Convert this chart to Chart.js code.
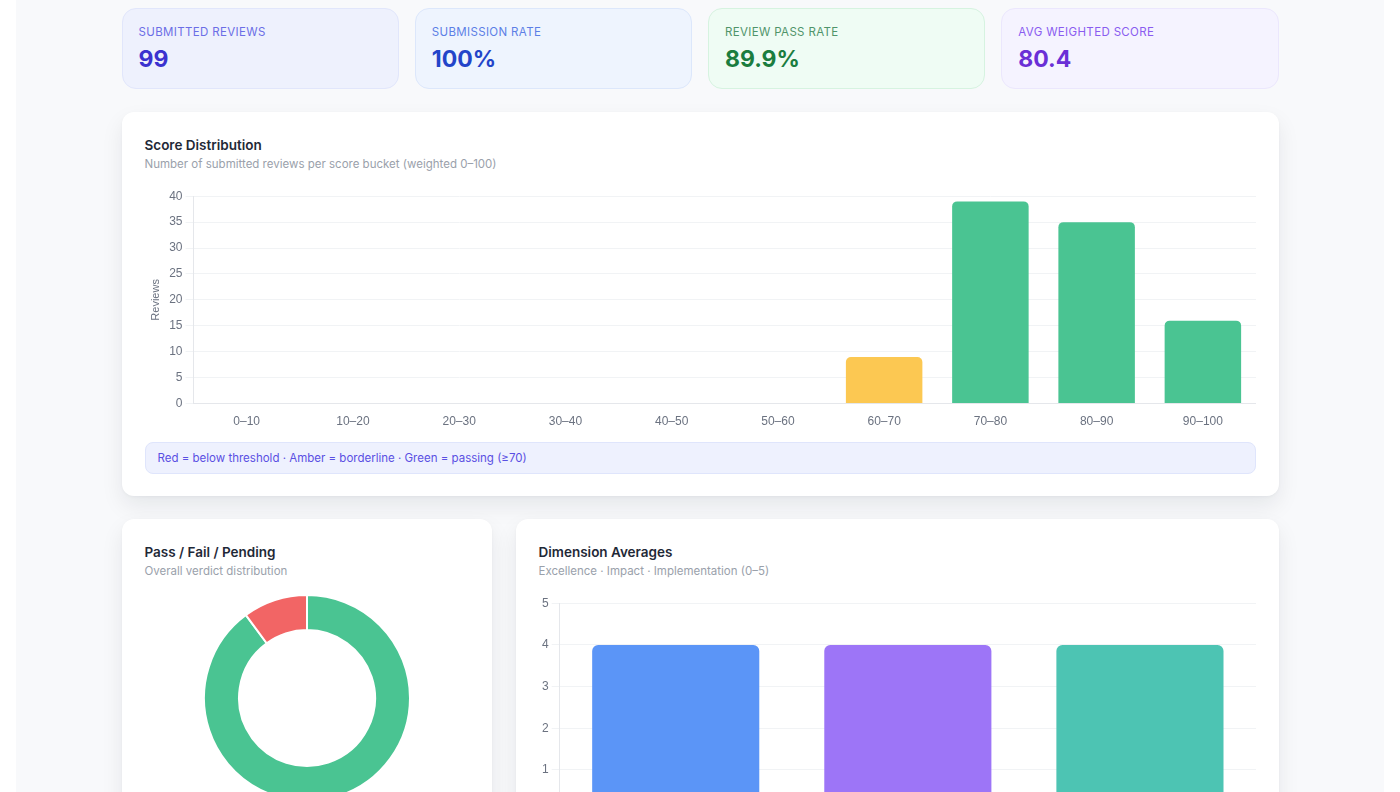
<!DOCTYPE html>
<html>
<head>
<meta charset="utf-8">
<script src="https://cdn.jsdelivr.net/npm/chart.js@4.4.1/dist/chart.umd.min.js"></script>
<style>
  html, body { margin: 0; padding: 0; background: #ffffff; font-family: Inter, "Noto Sans", sans-serif; }
  .page { margin: 0 16px; background: #f8f9fb; padding-top: 8px; box-sizing: border-box; overflow: hidden; height: 792px; }
  .wrap { width: 1157px; margin: 0 auto; }
  .kpis { display: grid; grid-template-columns: repeat(4, 1fr); gap: 16px; }
  .kpi { height: 81px; box-sizing: border-box; border-radius: 14px; border: 1px solid; padding: 16px 16px 0 16px; }
  .kpi .lbl { font-size: 11.5px; letter-spacing: 0.35px; text-transform: uppercase; font-weight: 400; line-height: 14px; }
  .kpi .val { font-size: 23px; font-weight: 700; line-height: 28px; margin-top: 6px; }
  .k1 { background: #eef1fd; border-color: #e1e6fb; } .k1 .lbl { color: #6b6ee6; } .k1 .val { color: #3b32cf; }
  .k2 { background: #eef4fe; border-color: #dce7fb; } .k2 .lbl { color: #5c7fe6; } .k2 .val { color: #2344c9; }
  .k3 { background: #effcf4; border-color: #d6f3e0; } .k3 .lbl { color: #4f946a; } .k3 .val { color: #1b7d3f; }
  .k4 { background: #f5f3ff; border-color: #ebe7fd; } .k4 .lbl { color: #8a5cf0; } .k4 .val { color: #6a2fd6; }
  .card { background: #ffffff; border-radius: 12px; box-shadow: 0 10px 22px rgba(15,23,42,0.08), 0 1px 3px rgba(15,23,42,0.04); box-sizing: border-box; padding: 24px 23px 22px 23px; }
  .title { font-size: 13.5px; font-weight: 600; color: #1f2937; line-height: 18px; }
  .sub { font-size: 11.5px; color: #9aa1ab; line-height: 16px; margin-top: 2px; }
  .dist { margin-top: 23px; height: 384px; }
  .dist .cv { position: relative; height: 246px; margin-top: 14px; }
  .note { margin-top: 10px; height: 32px; box-sizing: border-box; border-radius: 8px; background: #eef1fe; border: 1px solid #dfe5fc; color: #5a4fe3; font-size: 11.5px; line-height: 30px; padding-left: 12px; }
  .row { display: grid; grid-template-columns: 370px 1fr; gap: 24px; margin-top: 23px; }
  .row .card { height: 320px; }
  .donut { position: relative; height: 208px; margin-top: 15px; }
  .dims { position: relative; height: 247px; margin-top: 14px; }
</style>
</head>
<body>
<div class="page">
<div class="wrap">
  <div class="kpis">
    <div class="kpi k1"><div class="lbl">Submitted Reviews</div><div class="val">99</div></div>
    <div class="kpi k2"><div class="lbl">Submission Rate</div><div class="val">100%</div></div>
    <div class="kpi k3"><div class="lbl">Review Pass Rate</div><div class="val">89.9%</div></div>
    <div class="kpi k4"><div class="lbl">Avg Weighted Score</div><div class="val">80.4</div></div>
  </div>
  <div class="card dist">
    <div class="title">Score Distribution</div>
    <div class="sub">Number of submitted reviews per score bucket (weighted 0–100)</div>
    <div class="cv"><canvas id="distChart"></canvas></div>
    <div class="note">Red = below threshold · Amber = borderline · Green = passing (≥70)</div>
  </div>
  <div class="row">
    <div class="card">
      <div class="title">Pass / Fail / Pending</div>
      <div class="sub">Overall verdict distribution</div>
      <div class="donut"><canvas id="verdictChart"></canvas></div>
    </div>
    <div class="card">
      <div class="title">Dimension Averages</div>
      <div class="sub">Excellence · Impact · Implementation (0–5)</div>
      <div class="dims"><canvas id="dimChart"></canvas></div>
    </div>
  </div>
</div>
</div>
<script>
// ---- Data ----
const scoreBuckets = ['0–10','10–20','20–30','30–40','40–50','50–60','60–70','70–80','80–90','90–100'];
const bucketLowerBounds = [0,10,20,30,40,50,60,70,80,90];
const bucketCounts = [0,0,0,0,0,0,9,39,35,16];
const yTicksDist = [0,5,10,15,20,25,30,35,40];

const verdictLabels = ['Pass','Fail','Pending'];
const verdictCounts = [89,10,0];

const dimensionLabels = ['Excellence','Impact','Implementation'];
const dimensionAverages = [4.0,4.0,4.0];
const yTicksDim = [0,1,2,3,4,5];

// ---- Styles ----
const RED = '#f26565', AMBER = '#fcc852', GREEN = '#4ac492';
const bucketColors = bucketLowerBounds.map(b => b >= 70 ? GREEN : (b >= 60 ? AMBER : RED));
const verdictColors = [GREEN, RED, '#cbd5e1'];
const dimColors = ['#5b95f7', '#9d75f7', '#4dc4b3'];

Chart.defaults.animation = false;
Chart.defaults.font.family = "'Liberation Sans', Arial, sans-serif";
Chart.defaults.font.size = 12;
Chart.defaults.color = '#6b7280';

const gridColor = '#f1f3f5';
const borderColor = '#e5e7eb';

new Chart(document.getElementById('distChart'), {
  type: 'bar',
  data: { labels: scoreBuckets, datasets: [{ data: bucketCounts, backgroundColor: bucketColors, borderRadius: 5, borderSkipped: 'start' }] },
  options: {
    responsive: true, maintainAspectRatio: false,
    plugins: { legend: { display: false }, tooltip: { enabled: false } },
    scales: {
      x: { grid: { display: false }, border: { color: borderColor }, ticks: { color: '#6b7280' } },
      y: { min: 0, max: 40, afterBuildTicks: s => { s.ticks = yTicksDist.map(v => ({ value: v })); },
           grid: { color: gridColor }, border: { color: borderColor }, ticks: { color: '#6b7280' },
           title: { display: true, text: 'Reviews', color: '#6b7280', font: { size: 11 } } }
    }
  }
});

new Chart(document.getElementById('verdictChart'), {
  type: 'doughnut',
  data: { labels: verdictLabels, datasets: [{ data: verdictCounts, backgroundColor: verdictColors, borderColor: '#ffffff', borderWidth: 2 }] },
  options: {
    responsive: true, maintainAspectRatio: false, cutout: '66%',
    plugins: { legend: { display: false }, tooltip: { enabled: false } }
  }
});

new Chart(document.getElementById('dimChart'), {
  type: 'bar',
  data: { labels: dimensionLabels, datasets: [{ data: dimensionAverages, backgroundColor: dimColors, borderRadius: 6, borderSkipped: 'start' }] },
  options: {
    responsive: true, maintainAspectRatio: false,
    plugins: { legend: { display: false }, tooltip: { enabled: false } },
    scales: {
      x: { grid: { display: false }, border: { color: borderColor }, ticks: { color: '#6b7280' } },
      y: { min: 0, max: 5, afterBuildTicks: s => { s.ticks = yTicksDim.map(v => ({ value: v })); },
           grid: { color: gridColor }, border: { color: borderColor }, ticks: { color: '#6b7280' } }
    }
  }
});
</script>
</body>
</html>
